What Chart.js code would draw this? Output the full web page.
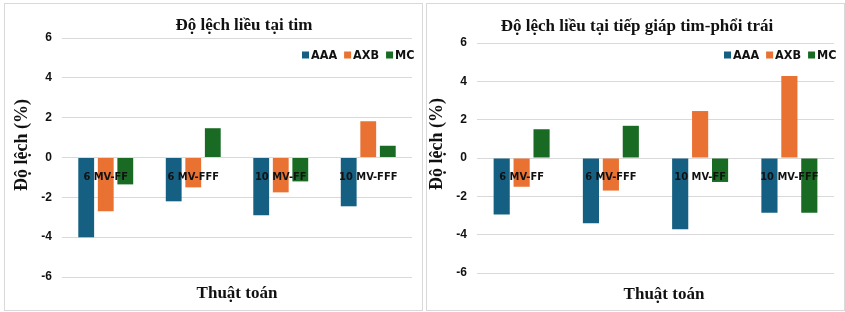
<!DOCTYPE html>
<html><head><meta charset="utf-8">
<script src="https://cdn.jsdelivr.net/npm/chart.js@4.4.1/dist/chart.umd.min.js"></script>
<style>
html,body{margin:0;padding:0;background:#fff;width:845px;height:312px;overflow:hidden;}
canvas{position:absolute;top:3px;}
#c1{left:4px;} #c2{left:426px;}
</style></head><body>
<canvas id="c1" width="419" height="308"></canvas>
<canvas id="c2" width="419" height="308"></canvas>
<script>
const categories = ['6 MV-FF', '6 MV-FFF', '10 MV-FF', '10 MV-FFF'];
const seriesNames = ['AAA', 'AXB', 'MC'];
const seriesColors = ['#156082', '#E97132', '#196B24'];
const heartAAA = [-4.0, -2.2, -2.9, -2.45];
const heartAXB = [-2.7, -1.5, -1.75, 1.82];
const heartMC = [-1.35, 1.47, -1.2, 0.59];
const interfaceAAA = [-2.95, -3.4, -3.72, -2.85];
const interfaceAXB = [-1.5, -1.7, 2.45, 4.28];
const interfaceMC = [1.5, 1.68, -1.25, -2.85];
const yTicks = [-6, -4, -2, 0, 2, 4, 6];
const titleLeft = 'Độ lệch liều tại tim';
const titleRight = 'Độ lệch liều tại tiếp giáp tim-phổi trái';
const yTitleText = 'Độ lệch (%)';
const xTitleText = 'Thuật toán';

const decor = {
  id: 'decor',
  afterDraw(chart, args, o) {
    const ctx = chart.ctx;
    ctx.save();
    ctx.strokeStyle = '#d9d9d9';
    ctx.lineWidth = 1;
    ctx.strokeRect(0.5, 0.5, chart.width - 1, chart.height - 1);
    ctx.fillStyle = '#111';
    ctx.textBaseline = 'middle';
    ctx.textAlign = 'center';
    ctx.font = 'bold 17px "Liberation Serif", "Times New Roman", serif';
    ctx.fillText(o.title, o.titleX, o.titleY);
    ctx.fillText(o.xTitle, o.xTitleX, o.xTitleY);
    ctx.save();
    ctx.translate(o.yTitleX, o.yTitleY);
    ctx.rotate(-Math.PI / 2);
    ctx.font = 'bold 18px "Liberation Serif", "Times New Roman", serif';
    ctx.fillText(o.yTitle, 0, 0);
    ctx.restore();
    ctx.font = 'bold 12.5px "DejaVu Sans Condensed", "DejaVu Sans", sans-serif';
    ctx.textAlign = 'left';
    let x = o.legendX;
    const y = o.legendY;
    chart.data.datasets.forEach(ds => {
      ctx.fillStyle = ds.backgroundColor;
      ctx.fillRect(x, y - 3.5, 7, 7);
      ctx.fillStyle = '#111';
      ctx.fillText(ds.label, x + 9, y + 0.5);
      x += 9 + ctx.measureText(ds.label).width + 7;
    });
    ctx.restore();
  }
};

function makeChart(id, data, cfg) {
  return new Chart(document.getElementById(id), {
    type: 'bar',
    data: {
      labels: categories,
      datasets: seriesNames.map((n, i) => ({
        label: n,
        data: data[i],
        backgroundColor: seriesColors[i],
        borderWidth: 0,
        categoryPercentage: 0.67,
        barPercentage: 0.81
      }))
    },
    options: {
      responsive: false,
      animation: false,
      devicePixelRatio: 1,
      layout: { padding: { left: 0, right: cfg.padRight, top: cfg.padTop, bottom: cfg.padBottom } },
      plugins: {
        legend: { display: false },
        title: { display: false },
        tooltip: { enabled: false },
        decor: cfg.decor
      },
      scales: {
        x: {
          position: { y: 0 },
          grid: { display: false },
          border: { display: false },
          ticks: {
            z: 1,
            padding: 5,
            maxRotation: 0,
            autoSkip: false,
            color: '#111',
            font: { family: '"DejaVu Sans Condensed", "DejaVu Sans", sans-serif', size: 11, weight: 'bold' }
          },
          afterFit(s) { s.height = 0; }
        },
        y: {
          min: yTicks[0],
          max: yTicks[yTicks.length - 1],
          afterFit(s) { s.width = cfg.yWidth; },
          afterBuildTicks(s) { s.ticks = yTicks.map(v => ({ value: v })); },
          grid: { color: '#d9d9d9', lineWidth: 1, drawTicks: false },
          border: { display: false },
          ticks: {
            padding: 10,
            color: '#111',
            font: { family: '"Liberation Sans", Arial, sans-serif', size: 12, weight: 'bold' }
          }
        }
      }
    },
    plugins: [decor]
  });
}

makeChart('c1', [heartAAA, heartAXB, heartMC], {
  yWidth: 58, padRight: 11, padTop: 35, padBottom: 34,
  decor: {
    title: titleLeft, titleX: 240, titleY: 23,
    xTitle: xTitleText, xTitleX: 233, xTitleY: 291,
    yTitle: yTitleText, yTitleX: 18, yTitleY: 142,
    legendX: 298, legendY: 52
  }
});
makeChart('c2', [interfaceAAA, interfaceAXB, interfaceMC], {
  yWidth: 51, padRight: 11, padTop: 40, padBottom: 38,
  decor: {
    title: titleRight, titleX: 211, titleY: 24,
    xTitle: xTitleText, xTitleX: 238, xTitleY: 292,
    yTitle: yTitleText, yTitleX: 11, yTitleY: 141,
    legendX: 298, legendY: 52
  }
});
</script>
</body></html>
